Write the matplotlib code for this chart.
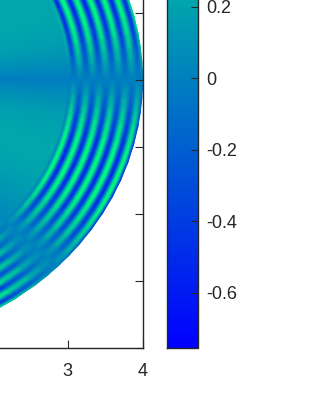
import numpy as np
import matplotlib
matplotlib.use("Agg")
import matplotlib.pyplot as plt
from matplotlib.colors import Normalize
from matplotlib.cm import ScalarMappable

plt.rcParams['font.family'] = ['Liberation Sans', 'DejaVu Sans']

# polar samples
theta_deg = [-70, -65, -60, -55, -50, -47, -44, -41, -38, -34, -30, -26, -22, -18, -14, -10, -7, -4, -2, -1,
             0, 1, 2, 4, 7, 10, 14, 18, 22, 26, 30, 35]
ring_amp = [0.62, 0.64, 0.58, 0.44, 0.24, 0.10, 0.00, -0.18, -0.32, -0.48, -0.58, -0.64, -0.66, -0.64, -0.58, -0.46, -0.34, -0.18, -0.09, -0.05,
            0.00, 0.05, 0.09, 0.18, 0.34, 0.46, 0.58, 0.64, 0.66, 0.64, 0.58, 0.44]
base_val = [0.22, 0.22, 0.21, 0.18, 0.12, 0.08, 0.05, 0.09, 0.12, 0.16, 0.20, 0.22, 0.22, 0.22, 0.20, 0.17, 0.12, 0.07, 0.03, 0.01,
            -0.02, 0.01, 0.03, 0.07, 0.12, 0.17, 0.20, 0.22, 0.22, 0.22, 0.22, 0.21]
radius = [2.0, 3.0, 3.02, 3.04, 3.06,
          3.08, 3.102, 3.123, 3.145, 3.167, 3.188, 3.21, 3.232,
          3.253, 3.275, 3.296, 3.318, 3.34, 3.361, 3.383, 3.405,
          3.426, 3.448, 3.469, 3.491, 3.513, 3.534, 3.556, 3.578,
          3.599, 3.621, 3.642, 3.664, 3.686, 3.707, 3.729, 3.751,
          3.772, 3.794, 3.815, 3.837, 3.859, 3.88, 3.902, 3.924,
          3.945, 3.967, 3.988, 4.0]
ring_wave = [0, 0, 0.2, 0.05, -0.6,
             -1, -0.71, 0, 0.71, 1, 0.71, 0, -0.71,
             -1, -0.71, 0, 0.71, 1, 0.71, 0, -0.71,
             -1, -0.71, 0, 0.71, 1, 0.71, 0, -0.71,
             -1, -0.71, 0, 0.71, 1, 0.71, 0, -0.71,
             -1, -0.71, 0, 0.71, 1, 0.71, 0, -0.71,
             -1, -0.5, 0.4, 0.9]
base_weight = [1.0, 1.0, 0.9, 0.75, 0.65] + [0.6] * 44
x_ticks = [-4, -3, -2, -1, 0, 1, 2, 3, 4]
x_labels = ['', '', '', '', '', '', '', '3', '4']
y_ticks = [-4, -3, -2, -1, 0, 1, 2, 3, 4]
cbar_ticks = [-0.6, -0.4, -0.2, 0, 0.2, 0.4, 0.6]
cbar_labels = ['-0.6', '-0.4', '-0.2', '0', '0.2', '', '']
clim = (-0.753, 0.746)

W, H = 315, 420
dark = '#262626'
fig = plt.figure(figsize=(W / 100, H / 100), dpi=100)
ax = fig.add_axes([-457.5 / W, (H - 347.5) / H, 600 / W, 536 / H])

t = np.radians(theta_deg)
R, T = np.meshgrid(radius, t)
Z = np.outer(base_val, base_weight) + np.outer(ring_amp, ring_wave)
norm = Normalize(*clim)
ax.pcolormesh(R * np.cos(T), R * np.sin(T), Z, cmap='winter', norm=norm, shading='gouraud', rasterized=True)
ax.set_xlim(-4, 4)
ax.set_ylim(-4, 4)
ax.set_xticks(x_ticks, labels=x_labels)
ax.set_yticks(y_ticks, labels=[''] * len(y_ticks))
ax.tick_params(direction='in', length=6, width=0.8, color=dark, labelcolor=dark, labelsize=13,
               top=True, right=True, pad=11.5)
for s in ax.spines.values():
    s.set_color(dark)
    s.set_linewidth(1.0)

cax = fig.add_axes([166.5 / W, (H - 347.5) / H, 31.5 / W, 536 / H])
cb = fig.colorbar(ScalarMappable(norm=norm, cmap='winter'), cax=cax)
cb.set_ticks(cbar_ticks, labels=cbar_labels)
cb.ax.tick_params(direction='in', length=5, width=0.8, color=dark, labelcolor=dark, labelsize=13, pad=6)
cb.outline.set_edgecolor(dark)
cb.outline.set_linewidth(1.0)

fig.savefig('out.png', dpi=100)
